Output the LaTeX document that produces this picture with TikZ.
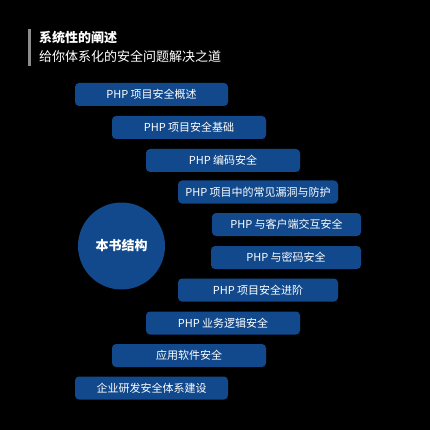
\documentclass[tikz,border=0pt]{standalone}
\usepackage{fontspec}
\setmainfont{Noto Sans CJK SC}
\definecolor{boxblue}{RGB}{17,73,140}
\definecolor{bargray}{RGB}{140,140,140}
\begin{document}
\begin{tikzpicture}[x=1pt,y=-1pt,
  sect/.style={fill=boxblue, rounded corners=4pt, text=white, font=\fontsize{11}{12}\selectfont, inner sep=0pt, minimum height=23pt},
  hub/.style={circle, fill=boxblue, text=white, font=\fontsize{13}{15}\selectfont\bfseries, minimum size=87pt, inner sep=0pt}]
\fill[black] (0,0) rectangle (430,430);
\useasboundingbox (0,0) rectangle (430,430);
% title
\fill[bargray] (28,29) rectangle (31,66);
\node[anchor=west, text=white, font=\fontsize{13}{14}\selectfont\bfseries, inner sep=0pt] (title) at (39,38) {系统性的阐述};
\node[anchor=west, text=white, font=\fontsize{13}{14}\selectfont, inner sep=0pt] (subtitle) at (39,57) {给你体系化的安全问题解决之道};
% hub
\node[hub] (hub) at (121.5,246) {本书结构};
% sections
\node[sect, minimum width=153pt] (s1) at (151.5,94.5) {PHP 项目安全概述};
\node[sect, minimum width=154pt] (s2) at (189,127.5) {PHP 项目安全基础};
\node[sect, minimum width=154pt] (s3) at (223,160.5) {PHP 编码安全};
\node[sect, minimum width=160pt] (s4) at (258,192) {PHP 项目中的常见漏洞与防护};
\node[sect, minimum width=149pt] (s5) at (286.5,224.5) {PHP 与客户端交互安全};
\node[sect, minimum width=150pt] (s6) at (286,257.5) {PHP 与密码安全};
\node[sect, minimum width=160pt] (s7) at (258,290) {PHP 项目安全进阶};
\node[sect, minimum width=154pt] (s8) at (223,323) {PHP 业务逻辑安全};
\node[sect, minimum width=154pt] (s9) at (189,355.5) {应用软件安全};
\node[sect, minimum width=153pt] (s10) at (151.5,388) {企业研发安全体系建设};
\end{tikzpicture}
\end{document}
